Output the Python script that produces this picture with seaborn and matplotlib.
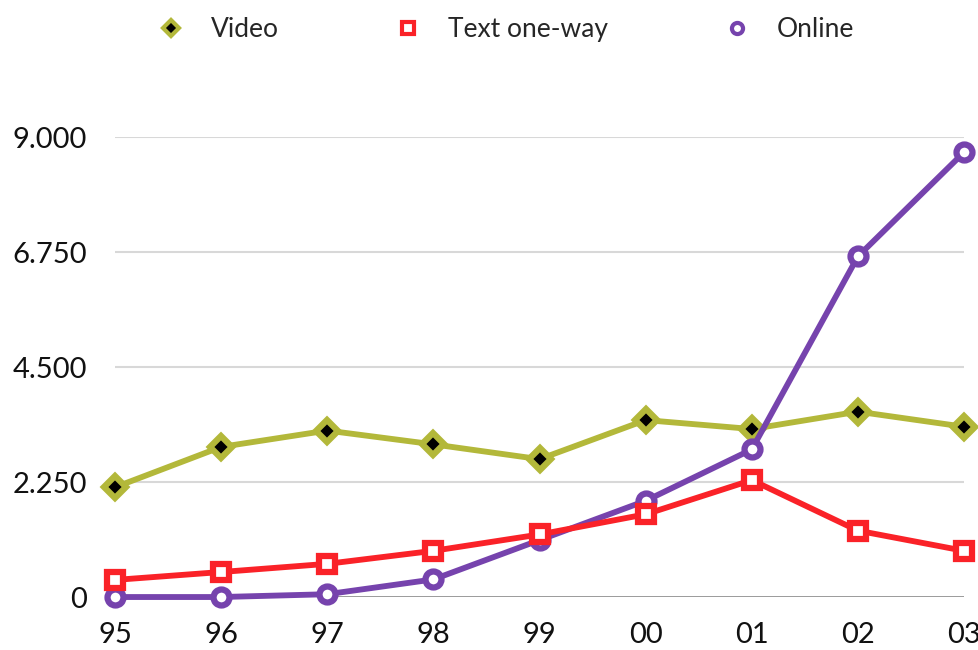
import matplotlib
matplotlib.use("Agg")
import matplotlib.pyplot as plt
from matplotlib.lines import Line2D
import seaborn as sns
import pandas as pd

years = ["95", "96", "97", "98", "99", "00", "01", "02", "03"]
video = [2150, 2940, 3260, 2990, 2700, 3465, 3290, 3630, 3335]
text_one_way = [335, 490, 650, 905, 1225, 1620, 2290, 1300, 905]
online = [0, 0, 55, 345, 1115, 1885, 2890, 6670, 8710]
y_ticks = [0, 2250, 4500, 6750, 9000]
y_tick_labels = ["0", "2.250", "4.500", "6.750", "9.000"]

sns.set_theme(style="white")
plt.rcParams["font.family"] = ["Lato", "DejaVu Sans"]

fig = plt.figure(figsize=(9.79, 6.5), dpi=100)
ax = fig.add_axes([0.1175, 0.0815, 0.9847 - 0.1175, 0.7885 - 0.0815])

pos = list(range(len(years)))
df = pd.DataFrame({"pos": pos, "Video": video, "Text one-way": text_one_way, "Online": online})

c_video = "#b3b83a"
c_text = "#fa2228"
c_online = "#7643ad"

common = dict(linewidth=4.2, markersize=11.5, markeredgewidth=4.5, clip_on=False, zorder=3)
sns.lineplot(data=df, x="pos", y="Video", ax=ax, color=c_video, marker="D",
             markerfacecolor="black", markeredgecolor=c_video, **common)
sns.lineplot(data=df, x="pos", y="Online", ax=ax, color=c_online, marker="o",
             markerfacecolor="white", markeredgecolor=c_online, **common)
sns.lineplot(data=df, x="pos", y="Text one-way", ax=ax, color=c_text, marker="s",
             markerfacecolor="white", markeredgecolor=c_text, **common)

ax.set_xlim(0, len(years) - 1)
ax.set_ylim(0, 9000)
ax.set_xticks(pos)
ax.set_xticklabels(years)
ax.set_yticks(y_ticks)
ax.set_yticklabels(y_tick_labels)
ax.set_xlabel("")
ax.set_ylabel("")
for s in ax.spines.values():
    s.set_visible(False)
for yv in y_ticks[1:]:
    ax.axhline(yv, color="#d8d8d8", linewidth=1.5, zorder=1)
ax.axhline(0, color="#8a8a8a", linewidth=1.2, zorder=1)
ax.tick_params(axis="both", length=0, labelsize=21, colors="#111111")
ax.tick_params(axis="y", pad=20)
ax.tick_params(axis="x", pad=18)

handles = [
    Line2D([], [], linestyle="none", marker="D", markersize=8, markerfacecolor="black",
           markeredgecolor=c_video, markeredgewidth=3),
    Line2D([], [], linestyle="none", marker="s", markersize=8, markerfacecolor="white",
           markeredgecolor=c_text, markeredgewidth=3),
    Line2D([], [], linestyle="none", marker="o", markersize=8, markerfacecolor="white",
           markeredgecolor=c_online, markeredgewidth=3),
]
fig.legend(handles, ["Video", "Text one-way", "Online"], loc="center",
           bbox_to_anchor=(0.517, 0.954), ncol=3, frameon=False, fontsize=19,
           handletextpad=1.0, columnspacing=4.4, handlelength=1.0)

fig.savefig("out.png", dpi=100)
